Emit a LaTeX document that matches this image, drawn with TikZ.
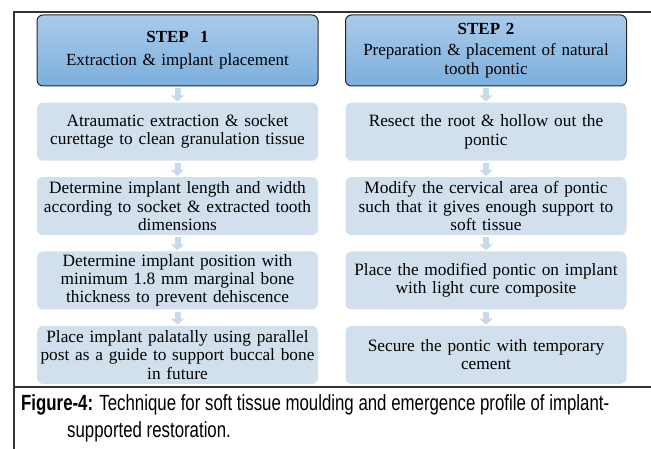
\documentclass[tikz,border=0pt]{standalone}
\usepackage{fontspec}
\setmainfont{Liberation Serif}
\newfontfamily\capfont[FakeStretch=0.765]{Liberation Sans}
\usetikzlibrary{arrows.meta,positioning}

\definecolor{headtop}{HTML}{AACBEA}
\definecolor{headbot}{HTML}{7BAFDD}
\definecolor{stepfill}{HTML}{D2E0EE}
\definecolor{arrowfill}{HTML}{C8D9EC}

\tikzset{
  headbox/.style={draw=black!85, line width=1pt, rounded corners=6pt,
    top color=headtop, bottom color=headbot, minimum width=281pt,
    minimum height=71pt, text width=272pt, align=center, inner sep=0pt,
    font=\fontsize{17}{19}\selectfont},
  stepbox/.style={fill=stepfill, rounded corners=6pt, minimum width=281pt,
    minimum height=58pt, text width=281pt, align=center, inner sep=0pt,
    font=\fontsize{17.3}{18.3}\selectfont},
  flow/.style={draw=arrowfill, line width=6pt,
    -{Triangle[width=13pt,length=6pt]}, shorten <=2pt, shorten >=1pt},
  caption/.style={anchor=west, inner sep=0pt, font=\capfont\fontsize{22}{26}\selectfont}
}

\begin{document}
\begin{tikzpicture}[x=1pt, y=1pt, node distance=16pt]
\useasboundingbox (0,0) rectangle (651,449);
\def\lx{177.5}   % left column x
\def\rx{486}     % right column x
\def\hy{398.5}   % header y
%% Frame
\draw[line width=1.2pt, black!80] (14,0) -- (14,437) -- (651,437);
\draw[line width=1.2pt, black!80] (14,62) -- (651,62);
%% Step 1 column
\node[headbox] (h1) at (\lx,\hy) {\textbf{STEP\ \ 1}\\[4pt]Extraction \& implant placement};
\node[stepbox, below=of h1] (a1) {Atraumatic extraction \& socket\\ curettage to clean granulation tissue};
\node[stepbox, below=of a1] (a2) {Determine implant length and width\\ according to socket \& extracted tooth\\ dimensions};
\node[stepbox, below=of a2] (a3) {Determine implant position with\\ minimum 1.8 mm marginal bone\\ thickness to prevent dehiscence};
\node[stepbox, below=of a3] (a4) {Place implant palatally using parallel\\ post as a guide to support buccal bone\\ in future};
%% Step 2 column
\node[headbox] (h2) at (\rx,\hy) {\textbf{STEP 2}\\[2pt]Preparation \& placement of natural\\ tooth pontic};
\node[stepbox, below=of h2] (b1) {Resect the root \& hollow out the\\ pontic};
\node[stepbox, below=of b1] (b2) {Modify the cervical area of pontic\\ such that it gives enough support to\\ soft tissue};
\node[stepbox, below=of b2] (b3) {Place the modified pontic on implant\\ with light cure composite};
\node[stepbox, below=of b3] (b4) {Secure the pontic with temporary\\ cement};
%% Arrows
\foreach \u/\v in {h1/a1, a1/a2, a2/a3, a3/a4, h2/b1, b1/b2, b2/b3, b3/b4}
  \draw[flow] (\u.south) -- (\v.north);
%% Caption
\node[caption] (cap1) at (21,44) {\textbf{Figure-4:} Technique for soft tissue moulding and emergence profile of implant-};
\node[caption] (cap2) at (67,17) {supported restoration.};
\end{tikzpicture}
\end{document}
